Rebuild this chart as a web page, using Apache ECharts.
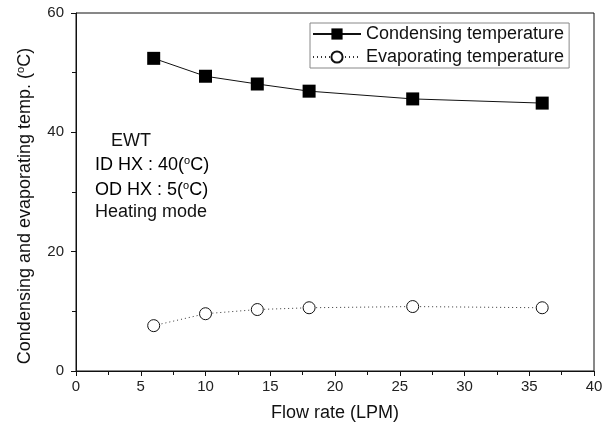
<!DOCTYPE html>
<html><head><meta charset="utf-8">
<script src="https://cdn.jsdelivr.net/npm/echarts@6/dist/echarts.min.js"></script>
<style>html,body{margin:0;padding:0;background:#fff}#c{width:610px;height:430px}</style>
</head><body><div id="c"></div>
<script>
const flowRate = [6, 10, 14, 18, 26, 36];
const condensing = [52.4, 49.4, 48.1, 46.9, 45.6, 44.9];
const evaporating = [7.6, 9.6, 10.3, 10.6, 10.8, 10.6];
const xTicks = [0, 5, 10, 15, 20, 25, 30, 35, 40];
const yTicks = [0, 20, 40, 60];
const FONT = 'Liberation Sans, Arial, sans-serif';

const chart = echarts.init(document.getElementById('c'), null, {renderer: 'canvas'});
const sup = {
  n: {fontSize: 18, fontFamily: FONT, color: '#111'},
  s: {fontSize: 11, fontFamily: FONT, color: '#111', verticalAlign: 'top', padding: [0,0,9,0]}
};
chart.setOption({
  animation: false,
  grid: {left: 76, right: 16, top: 13, bottom: 59, show: true, borderColor: '#111', borderWidth: 1},
  legend: {
    left: 310, top: 23, orient: 'vertical', itemGap: 5,
    borderColor: '#888', borderWidth: 1, padding: [2, 5, 2, 2],
    itemWidth: 48, itemHeight: 14,
    textStyle: {fontSize: 18, fontFamily: FONT, color: '#111'},
    data: ['Condensing temperature', 'Evaporating temperature']
  },
  xAxis: {
    type: 'value', min: 0, max: 40, interval: 5,
    axisLine: {onZero: false, lineStyle: {color: '#111', width: 1}},
    axisTick: {show: true, inside: false, length: 5, lineStyle: {color: '#111'}},
    minorTick: {show: true, splitNumber: 2, length: 4, lineStyle: {color: '#111'}},
    splitLine: {show: false},
    axisLabel: {fontSize: 15, fontFamily: FONT, color: '#222', margin: 8},
    name: 'Flow rate (LPM)', nameLocation: 'middle', nameGap: 33,
    nameTextStyle: {fontSize: 18, fontFamily: FONT, color: '#111'}
  },
  yAxis: {
    type: 'value', min: 0, max: 60, interval: 20,
    axisLine: {show: true, lineStyle: {color: '#111', width: 1}},
    axisTick: {show: true, inside: false, length: 5, lineStyle: {color: '#111'}},
    minorTick: {show: true, splitNumber: 2, length: 4, lineStyle: {color: '#111'}},
    splitLine: {show: false},
    axisLabel: {fontSize: 15, fontFamily: FONT, color: '#222', margin: 12}
  },
  graphic: [
    {type: 'text', x: 25, y: 206, rotation: Math.PI/2,
     style: {rich: sup, text: '{n|Condensing and evaporating temp. (}{s|o}{n|C)}', align: 'center', verticalAlign: 'middle', fill: '#111'}},
    {type: 'text', left: 111, top: 132, style: {text: 'EWT', font: '18px ' + FONT, fill: '#111'}},
    {type: 'text', left: 95, top: 155, style: {rich: sup, text: '{n|ID HX : 40(}{s|o}{n|C)}'}},
    {type: 'text', left: 95, top: 180, style: {rich: sup, text: '{n|OD HX : 5(}{s|o}{n|C)}'}},
    {type: 'text', left: 95, top: 203, style: {text: 'Heating mode', font: '18px ' + FONT, fill: '#111'}}
  ],
  series: [
    {name: 'Condensing temperature', type: 'line',
     data: flowRate.map((x, i) => [x, condensing[i]]),
     symbol: 'rect', symbolSize: 13,
     itemStyle: {color: '#000', borderColor: '#000', borderWidth: 0},
     lineStyle: {color: '#111', width: 1}},
    {name: 'Evaporating temperature', type: 'line',
     data: flowRate.map((x, i) => [x, evaporating[i]]),
     symbol: 'circle', symbolSize: 12,
     itemStyle: {color: '#fff', borderColor: '#111', borderWidth: 1},
     lineStyle: {color: '#333', width: 1, type: [1, 3]}}
  ]
});
</script></body></html>
